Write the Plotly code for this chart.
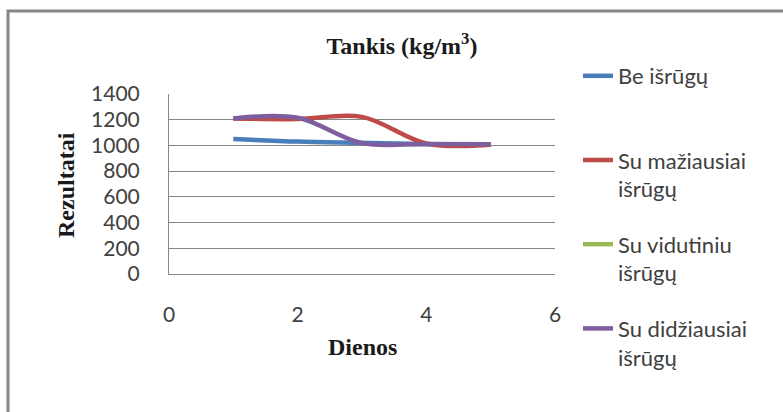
import plotly.graph_objects as go

days = [1, 2, 3, 4, 5]
series_names = ["Be išrūgų", "Su mažiausiai<br>išrūgų", "Su vidutiniu<br>išrūgų", "Su didžiausiai<br>išrūgų"]
be_israugu = [1050, 1030, 1020, 1010, 1010]
su_maziausiai = [1210, 1205, 1222, 1015, 1005]
su_vidutiniu = [None, None, None, None, None]
su_didziausiai = [1210, 1215, 1018, 1012, 1010]
colors = ["#4A7EBB", "#BE4B48", "#98B954", "#7D5FA0"]
x_ticks = [0, 2, 4, 6]
y_ticks = [0, 200, 400, 600, 800, 1000, 1200, 1400]

W, H = 783, 412
L, R, T, B = 169, 228, 94, 138

fig = go.Figure()
all_series = [be_israugu, su_maziausiai, su_vidutiniu, su_didziausiai]
for i, (name, vals, col) in enumerate(zip(series_names, all_series, colors)):
    label = name if "<br>" in name else name + "<br>\u00a0"
    fig.add_trace(go.Scatter(
        x=days, y=vals, name=label, mode="lines",
        line=dict(color=col, width=4.5, shape="spline", smoothing=1.0),
        legendgroup=f"g{i}", showlegend=True,
    ))

pw = W - L - R
ph = H - T - B
def px_x(p):
    return (p - L) / pw
def px_y(p):
    return (H - B - p) / ph

fig.add_shape(type="rect", xref="paper", yref="paper",
              x0=px_x(8), x1=px_x(800), y0=px_y(430), y1=px_y(11),
              line=dict(color="#868686", width=3), fillcolor="rgba(0,0,0,0)", layer="below")

fig.update_layout(
    width=W, height=H,
    margin=dict(l=L, r=R, t=T, b=B, autoexpand=False),
    paper_bgcolor="white", plot_bgcolor="white",
    font=dict(family="Lato", color="#404040", size=21),
    title=dict(text="<b>Tankis (kg/m<sup>3</sup>)</b>", x=402 / W, xanchor="center",
               y=1 - 46 / H, yanchor="middle", yref="container",
               font=dict(family="Liberation Serif", size=24, color="#1a1a1a")),
    showlegend=True,
    legend=dict(x=px_x(578), xanchor="left", y=px_y(55), yanchor="top",
                font=dict(family="Lato", size=22, color="#404040"),
                tracegroupgap=24, valign="top", bgcolor="rgba(0,0,0,0)",
                itemwidth=30, maxheight=400),
    xaxis=dict(range=[0, 6], tickvals=x_ticks, showgrid=False, zeroline=False,
               showline=True, linecolor="#868686", linewidth=1, ticks="", ticklabelstandoff=22,
               tickfont=dict(family="Lato", size=21, color="#404040")),
    yaxis=dict(range=[0, 1400], tickvals=y_ticks, showgrid=True, gridcolor="#868686",
               gridwidth=1, zeroline=False, showline=True, linecolor="#868686", linewidth=1,
               ticks="", ticklabelstandoff=24,
               tickfont=dict(family="Lato", size=21, color="#404040")),
    annotations=[
        dict(text="<b>Rezultatai</b>", xref="paper", yref="paper", x=px_x(66), y=px_y(185),
             xanchor="center", yanchor="middle", textangle=-90, showarrow=False,
             font=dict(family="Liberation Serif", size=24, color="#1a1a1a")),
        dict(text="<b>Dienos</b>", xref="paper", yref="paper", x=px_x(362), y=px_y(347),
             xanchor="center", yanchor="middle", showarrow=False,
             font=dict(family="Liberation Serif", size=24, color="#1a1a1a")),
    ],
)

fig.write_html("out.html")
